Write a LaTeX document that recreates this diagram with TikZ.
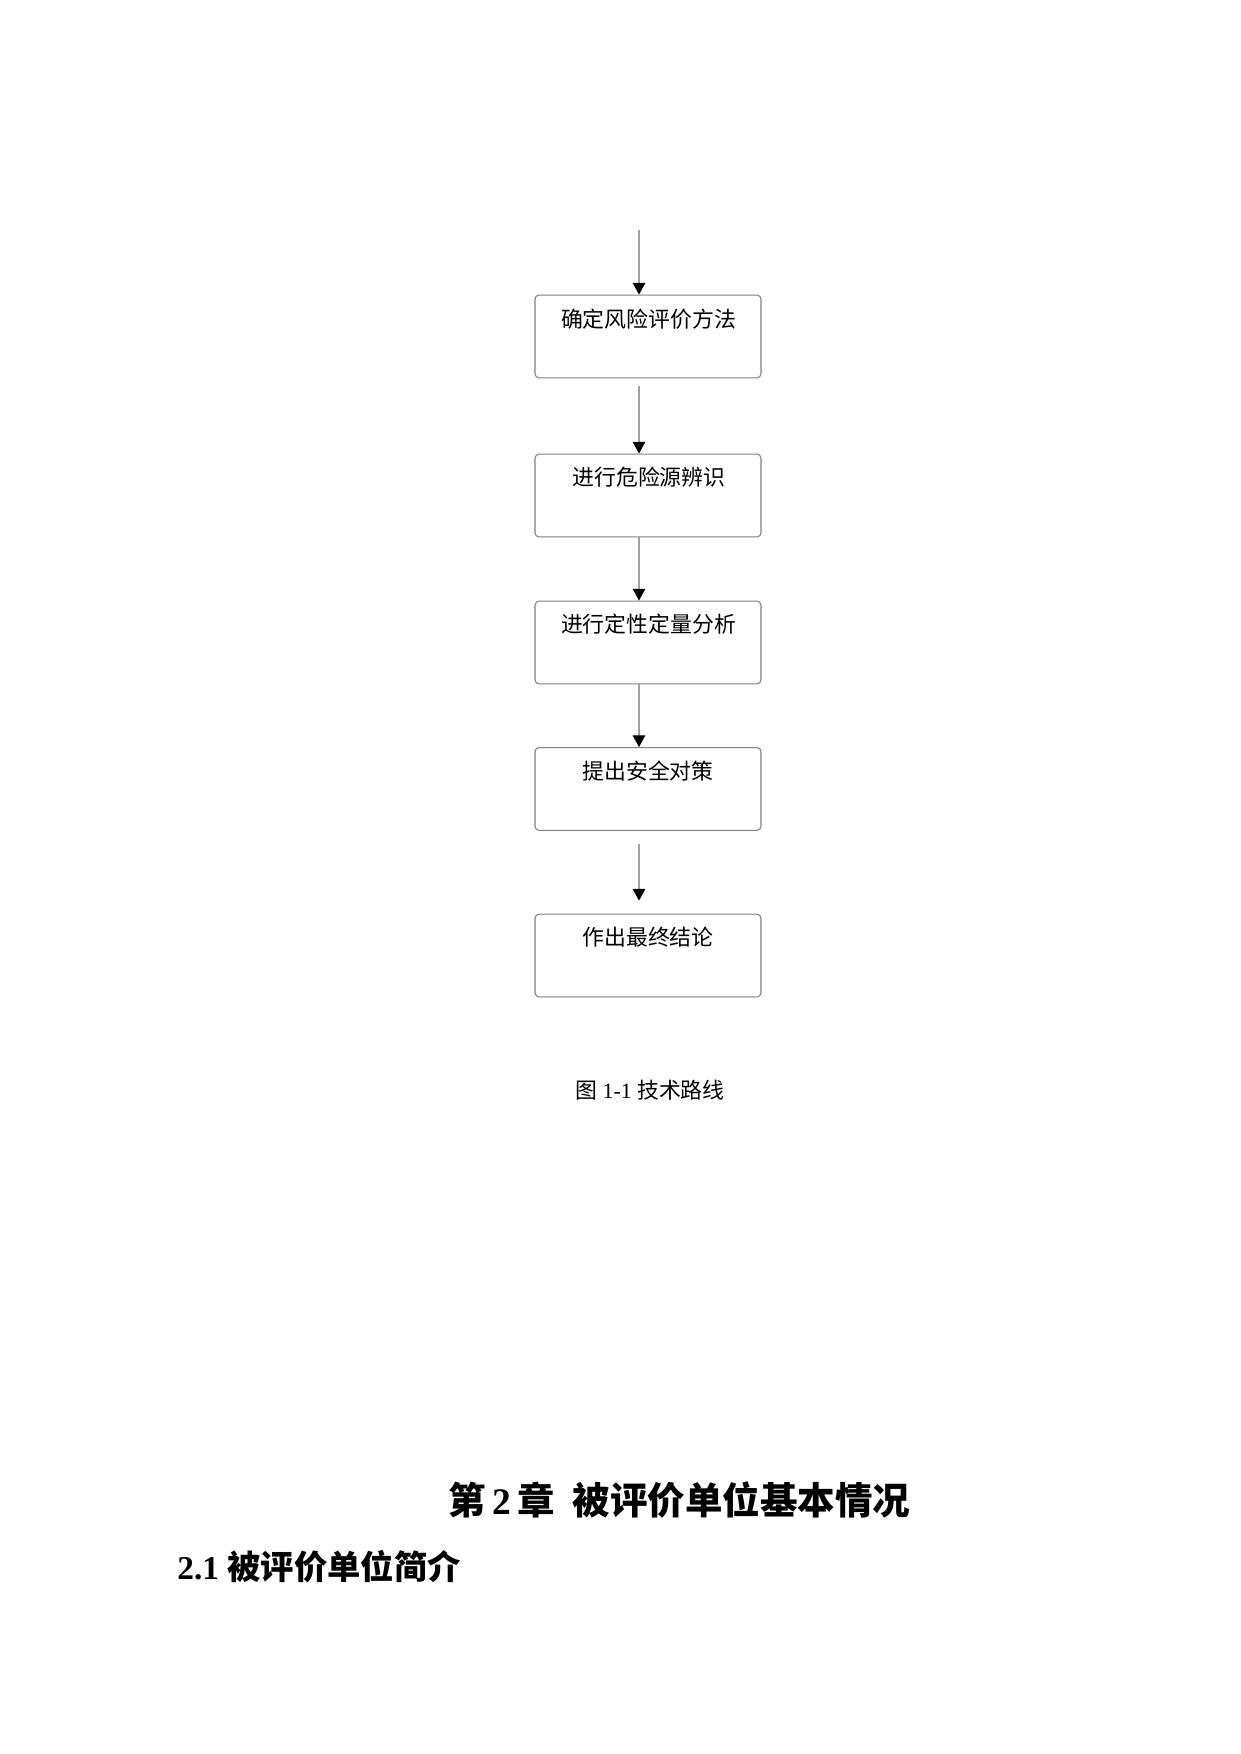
\documentclass[tikz,border=0pt]{standalone}
\usepackage{fontspec}
\setmainfont{Liberation Serif}
\newfontfamily\cjk{Noto Sans CJK SC}
\usetikzlibrary{arrows.meta,calc}
\tikzset{
  flowbox/.style={draw=boxgray, line width=0.5pt, rounded corners=2pt,
    minimum width=108.5pt, minimum height=39.8pt, inner sep=0pt},
  boxtext/.style={font=\cjk\fontsize{10.5pt}{12pt}\selectfont, inner sep=0pt, anchor=center},
  flowarrow/.style={draw=linegray, line width=0.55pt,
    -{Triangle[width=6pt,length=5.6pt,black]}}
}
\definecolor{boxgray}{HTML}{808080}
\definecolor{linegray}{HTML}{A0A0A0}
\begin{document}
\begin{tikzpicture}[x=0.48006pt,y=-0.48006pt]
\useasboundingbox (0,0) rectangle (1240,1754);
% boxes (pixel coordinates)
\node[flowbox] (b1) at (648,336.5) {};
\node[flowbox] (b2) at (648,495.5) {};
\node[flowbox] (b3) at (648,642.5) {};
\node[flowbox] (b4) at (648,789) {};
\node[flowbox] (b5) at (648,955.5) {};
% box texts
\node[boxtext] (t1) at (648.5,319) {确定风险评价方法};
\node[boxtext] (t2) at (649,477) {进行危险源辨识};
\node[boxtext] (t3) at (648.5,624) {进行定性定量分析};
\node[boxtext] (t4) at (648,771) {提出安全对策};
\node[boxtext] (t5) at (648,937) {作出最终结论};
% arrows
\coordinate (s0) at (639,230);
\draw[flowarrow] (s0) -- ($(b1.north)+(-9,0)$);
\draw[flowarrow, shorten <=3.8pt] ($(b1.south)+(-9,0)$) -- ($(b2.north)+(-9,0)$);
\draw[flowarrow] ($(b2.south)+(-9,0)$) -- ($(b3.north)+(-9,0)$);
\draw[flowarrow] ($(b3.south)+(-9,0)$) -- ($(b4.north)+(-9,0)$);
\draw[flowarrow, shorten <=6.2pt, shorten >=6.2pt] ($(b4.south)+(-9,0)$) -- ($(b5.north)+(-9,0)$);
% caption
\node[inner sep=0pt, font=\fontsize{10.5pt}{12pt}\selectfont] (cap) at (650,1090)
  {{\cjk 图}\hspace{2.6pt}1-1\hspace{2.6pt}{\cjk 技术路线}};
% chapter heading
\node[inner sep=0pt, anchor=west, font=\bfseries\fontsize{18pt}{22pt}\selectfont] (h1) at (448,1500)
  {{\cjk 第}\hspace{3pt}2\hspace{3pt}{\cjk 章}\hspace{8.6pt}{\cjk 被评价单位基本情况}};
% section heading
\node[inner sep=0pt, anchor=west, font=\bfseries\fontsize{16pt}{20pt}\selectfont] (h2) at (177,1567)
  {2.1\hspace{4pt}{\cjk 被评价单位简介}};
\end{tikzpicture}
\end{document}
